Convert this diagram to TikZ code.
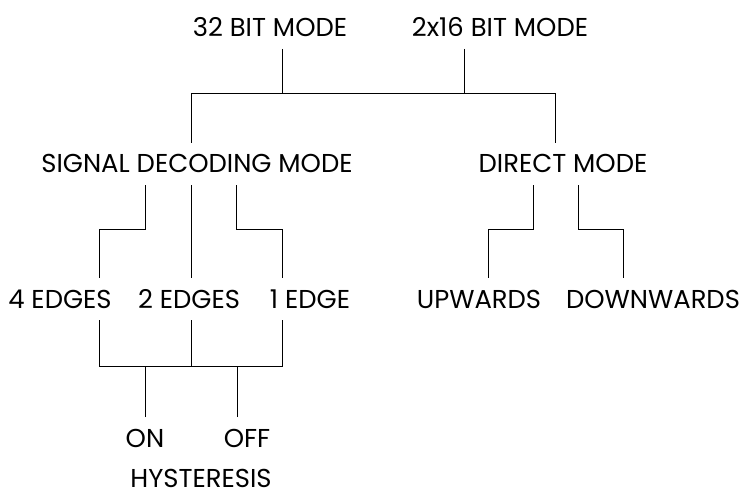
\documentclass[tikz,border=0pt]{standalone}
\usepackage{fontspec}
\setmainfont{Poppins}
\begin{document}
\begin{tikzpicture}[x=0.75pt,y=-0.75pt,
  lbl/.style={font=\fontsize{19.4}{22}\selectfont, inner xsep=0pt, inner ysep=9pt,
              text height=13.5pt, text depth=0pt},
  conn/.style={line width=0.7pt}]
\useasboundingbox (0,0) rectangle (740,492);
\node[lbl] (m32)  at (270,27.5) {32 BIT MODE};
\node[lbl] (m216) at (500,27.5) {2x16 BIT MODE};
\node[lbl] (sdm)  at (197,164) {SIGNAL DECODING MODE};
\node[lbl] (dir)  at (563,164) {DIRECT MODE};
\node[lbl] (e4)   at (60,299) {4 EDGES};
\node[lbl] (e2)   at (189,299) {2 EDGES};
\node[lbl] (e1)   at (310,299) {1 EDGE};
\node[lbl] (up)   at (479,299) {UPWARDS};
\node[lbl] (down) at (653,299) {DOWNWARDS};
\node[lbl] (on)   at (145,438.5) {ON};
\node[lbl] (off)  at (247,438.5) {OFF};
\node[lbl, inner ysep=0pt] (hys)  at (201,478) {HYSTERESIS};
% top level
\draw[conn] (m32.south -| 282,0) -- (282,93);
\draw[conn] (m216.south -| 464,0) -- (464,93);
\draw[conn] (sdm.north -| 191,0) |- (555,93) -- (dir.north -| 555,0);
% signal decoding children
\draw[conn] (sdm.south -| 145,0) |- (99,229) -- (e4.north -| 99,0);
\draw[conn] (sdm.south -| 191,0) -- (e2.north -| 191,0);
\draw[conn] (sdm.south -| 236,0) |- (282,229) -- (e1.north -| 282,0);
% direct children
\draw[conn] (dir.south -| 533,0) |- (488,229) -- (up.north -| 488,0);
\draw[conn] (dir.south -| 578,0) |- (623,229) -- (down.north -| 623,0);
% hysteresis
\draw[conn] (e4.south -| 99,0) |- (282,366) -- (e1.south -| 282,0);
\draw[conn] (e2.south -| 191,0) -- (191,366);
\draw[conn] (on.north -| 145,0) -- (145,366);
\draw[conn] (off.north -| 237,0) -- (237,366);
\end{tikzpicture}
\end{document}
